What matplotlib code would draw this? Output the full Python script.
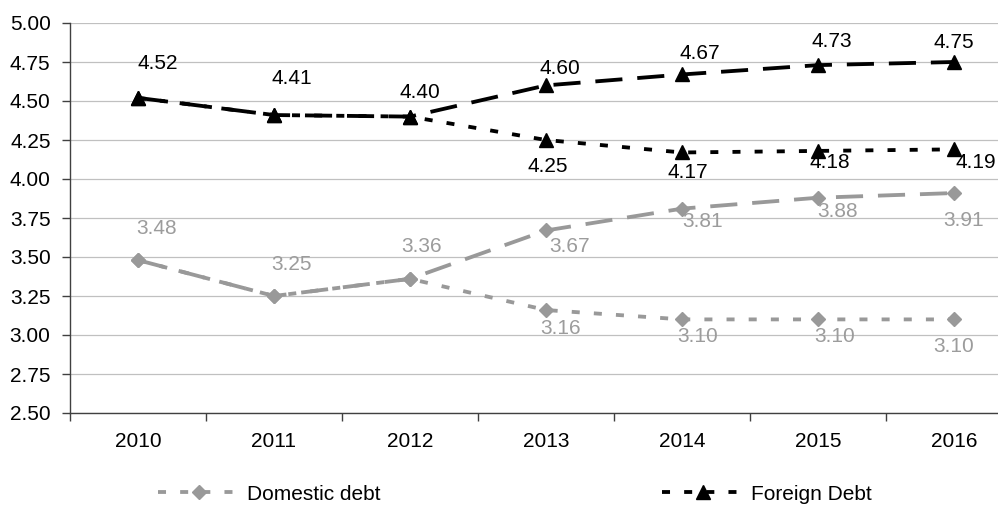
import matplotlib
matplotlib.use("Agg")
import matplotlib.pyplot as plt
from matplotlib.lines import Line2D
from matplotlib.ticker import FixedLocator, FuncFormatter

plt.rcParams['font.family'] = ['Liberation Sans Narrow', 'Liberation Sans', 'DejaVu Sans']

# ---- data -------------------------------------------------------------
years = ["2010", "2011", "2012", "2013", "2014", "2015", "2016"]

domestic_high = [3.48, 3.25, 3.36, 3.67, 3.81, 3.88, 3.91]
domestic_low = [3.48, 3.25, 3.36, 3.16, 3.10, 3.10, 3.10]
foreign_high = [4.52, 4.41, 4.40, 4.60, 4.67, 4.73, 4.75]
foreign_low = [4.52, 4.41, 4.40, 4.25, 4.17, 4.18, 4.19]

y_ticks = [2.50, 2.75, 3.00, 3.25, 3.50, 3.75, 4.00, 4.25, 4.50, 4.75, 5.00]

# ---- label placement (pixel offsets from each point) ------------------
off_foreign_high = [(20, 34), (18, 37), (10, 24), (14, 17), (18, 21), (14, 24), (0, 19)]
off_foreign_low = [None, None, None, (2, -27), (6, -20), (12, -12), (22, -13)]
off_domestic_high = [(19, 32), (18, 31), (12, 32), (24, -16), (21, -13), (20, -14), (10, -27)]
off_domestic_low = [None, None, None, (15, -18), (16, -17), (17, -17), (0, -27)]

GRAY_LINE = '#999999'
GRAY_TEXT = '#9c9c9c'
BLACK = '#000000'

LW = 2.75
LONG = (0, (7.1, 3.9))
SHORT = (0, (2.1, 3.7))
FS = 15

fig = plt.figure(figsize=(9.98, 5.05), dpi=100)
ax = fig.add_axes([70 / 998, 92 / 505, 952 / 998, 390 / 505])

x = list(range(len(years)))

ax.plot(x, domestic_low, color=GRAY_LINE, lw=LW, linestyle=SHORT,
        marker='D', ms=7.5, mfc=GRAY_LINE, mec=GRAY_LINE, zorder=3)
ax.plot(x, domestic_high, color=GRAY_LINE, lw=LW, linestyle=LONG,
        marker='D', ms=7.5, mfc=GRAY_LINE, mec=GRAY_LINE, zorder=3)
ax.plot(x, foreign_low, color=BLACK, lw=LW, linestyle=SHORT,
        marker='^', ms=9.5, mfc=BLACK, mec=BLACK, zorder=4)
ax.plot(x, foreign_high, color=BLACK, lw=LW, linestyle=LONG,
        marker='^', ms=9.5, mfc=BLACK, mec=BLACK, zorder=4)


def put_labels(values, offsets, color):
    for xi, v, off in zip(x, values, offsets):
        if off is None:
            continue
        ax.annotate(f"{v:.2f}", (xi, v), xytext=off, textcoords='offset pixels',
                    ha='center', va='center', fontsize=FS, color=color, zorder=5)


put_labels(foreign_high, off_foreign_high, BLACK)
put_labels(foreign_low, off_foreign_low, BLACK)
put_labels(domestic_high, off_domestic_high, GRAY_TEXT)
put_labels(domestic_low, off_domestic_low, GRAY_TEXT)

# ---- axes styling -----------------------------------------------------
ax.set_xlim(-0.5, len(years) - 0.5)
ax.set_ylim(2.50, 5.00)

ax.yaxis.set_major_locator(FixedLocator(y_ticks))
ax.yaxis.set_major_formatter(FuncFormatter(lambda v, p: f"{v:.2f}"))
ax.tick_params(axis='y', which='major', length=6, width=1, color='#404040',
               pad=8, labelsize=FS, direction='out')

ax.set_xticks(x)
ax.set_xticklabels(years)
ax.set_xticks([i - 0.5 for i in range(len(years) + 1)], minor=True)
ax.tick_params(axis='x', which='major', length=0, pad=13.5, labelsize=FS)
ax.tick_params(axis='x', which='minor', length=6, width=1, color='#404040',
               direction='out')

ax.grid(axis='y', color='#c0c0c0', lw=0.9, zorder=0)
ax.set_axisbelow(True)
for side in ('top', 'right'):
    ax.spines[side].set_visible(False)
for side in ('left', 'bottom'):
    ax.spines[side].set_color('#404040')
    ax.spines[side].set_linewidth(1.0)
    ax.spines[side].set_zorder(2)

# ---- legend -----------------------------------------------------------
h_dom = Line2D([], [], color=GRAY_LINE, lw=LW, linestyle=SHORT,
               marker='D', ms=7.5, mfc=GRAY_LINE, mec=GRAY_LINE)
h_for = Line2D([], [], color=BLACK, lw=LW, linestyle=SHORT,
               marker='^', ms=9.5, mfc=BLACK, mec=BLACK)

leg_kw = dict(frameon=False, fontsize=FS, handlelength=3.9, handletextpad=0.35,
              borderpad=0, borderaxespad=0, loc='center left', numpoints=1)
leg1 = fig.legend([h_dom], ["Domestic debt"], bbox_to_anchor=(158 / 998, 1 - 494 / 505),
                  **leg_kw)
leg2 = fig.legend([h_for], ["Foreign Debt"], bbox_to_anchor=(662 / 998, 1 - 494 / 505),
                  **leg_kw)

fig.savefig("out.png", dpi=100)
